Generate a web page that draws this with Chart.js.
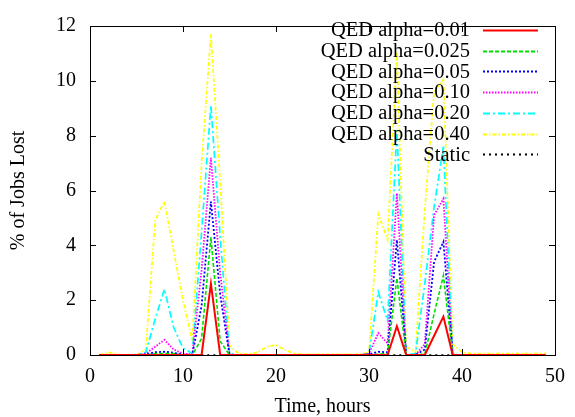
<!DOCTYPE html>
<html>
<head>
<meta charset="utf-8">
<script src="https://cdn.jsdelivr.net/npm/chart.js@4/dist/chart.umd.min.js"></script>
<style>
html,body{margin:0;padding:0;background:#fff;}
canvas{display:block;}
</style>
</head>
<body>
<canvas id="c" width="575" height="417"></canvas>
<script>
// hours 1..49
const hours = [1,2,3,4,5,6,7,8,9,10,11,12,13,14,15,16,17,18,19,20,21,22,23,24,25,26,27,28,29,30,31,32,33,34,35,36,37,38,39,40,41,42,43,44,45,46,47,48,49];
const qed001  = [0,0,0,0,0,0,   0,   0,   0,   0,   0,   0,   2.6, 0,   0,   0,0,0,0,0,0,0,0,0,0,0,0,0,0,0,   0,   0,   1.05,0,0,0,   0.7, 1.4, 0,0,0,0,0,0,0,0,0,0,0];
const qed0025 = [0,0,0,0,0,0,   0.05,0.05,0.05,0,   0,   0.6, 4.3, 0.5, 0,   0,0,0,0,0,0,0,0,0,0,0,0,0,0,0,   0.03,0.05,2.8, 0,0,0.03,1.5, 2.9, 0,0,0,0,0,0,0,0,0,0,0];
const qed005  = [0,0,0,0,0,0.02,0.1, 0.12,0.08,0.02,0,   1.8, 5.6, 2.2, 0,   0,0,0,0,0,0,0,0,0,0,0,0,0,0,0.02,0.12,0.1, 4.2, 0,0,0.2, 3.4, 4.13,0,0,0,0,0,0,0,0,0,0,0];
const qed010  = [0,0,0,0,0,0.05,0.3, 0.55,0.2, 0.05,0.02,3.1, 7.2, 3.0, 0.02,0,0,0,0,0,0,0,0,0,0,0,0,0,0,0.05,0.8, 0.42,5.9, 0,0,0.4, 5.1, 5.7, 0,0,0,0,0,0,0,0,0,0,0];
const qed020  = [0,0,0,0,0,0.1, 1.3, 2.4, 1.0, 0.25,0.05,4.5, 9.1, 4.3, 0.05,0,0,0,0,0,0,0,0,0,0,0,0,0,0,0.05,2.3, 1.25,8.2, 0,0.05,2.6,5.4, 7.6, 0.02,0,0,0,0,0,0,0,0,0,0];
const qed040  = [0,0.1,0.02,0,0,0.2,4.9,5.6,3.8,2.0,0.5,7.0,11.7,6.3,0.35,0.05,0.03,0.1,0.3,0.37,0.18,0.05,0.02,0.02,0.02,0.02,0.02,0.02,0.02,0.1,5.15,4.2,11.05,0.3,0.1,5.3,9.6,10.05,0.4,0.1,0.05,0.05,0.05,0.05,0.05,0.05,0.05,0.05,0.05];
const staticV = [0,0,0,0,0,0,0,0,0,0,0,0,0,0,0,0,0,0,0,0,0,0,0,0,0,0,0,0,0,0,0,0,0,0,0,0,0,0,0,0,0,0,0,0,0,0,0,0,0];

const labels = ['QED alpha=0.01','QED alpha=0.025','QED alpha=0.05','QED alpha=0.10','QED alpha=0.20','QED alpha=0.40','Static'];
const xTicks = [0,10,20,30,40,50];
const yTicks = [0,2,4,6,8,10,12];

const FONT = '"Liberation Serif", "Times New Roman", Times, serif';
const toPts = arr => hours.map((h, i) => ({x: h, y: arr[i]}));

const series = [
  {data: qed001,  color: '#ff0000', width: 2,   dash: []},
  {data: qed0025, color: '#00e000', width: 1.6, dash: [4, 2]},
  {data: qed005,  color: '#0000ff', width: 1.8, dash: [2, 2]},
  {data: qed010,  color: '#ff00ff', width: 1.8, dash: [1.5, 1.5]},
  {data: qed020,  color: '#00ffff', width: 1.7, dash: [7, 3, 2, 3]},
  {data: qed040,  color: '#ffff00', width: 1.7, dash: [4, 2, 1.5, 2]},
  {data: staticV, color: '#000000', width: 1.3, dash: [2, 4]}
];

const datasets = series.map((s, i) => ({
  label: labels[i],
  data: toPts(s.data),
  borderColor: s.color,
  backgroundColor: s.color,
  borderWidth: s.width,
  borderDash: s.dash,
  pointRadius: 0,
  tension: 0,
  fill: false,
  clip: 4
}));

const framePlugin = {
  id: 'frame',
  afterDatasetsDraw(chart) {
    const {ctx, chartArea: a, scales: {x, y}} = chart;
    ctx.save();
    ctx.strokeStyle = '#000';
    ctx.lineWidth = 1;
    ctx.setLineDash([]);
    ctx.strokeRect(Math.round(a.left) + 0.5, Math.round(a.top) + 0.5, Math.round(a.right - a.left), Math.round(a.bottom - a.top));
    const tl = 6;
    ctx.beginPath();
    xTicks.forEach(v => {
      const px = Math.round(x.getPixelForValue(v)) + 0.5;
      ctx.moveTo(px, a.bottom); ctx.lineTo(px, a.bottom - tl);
      ctx.moveTo(px, a.top); ctx.lineTo(px, a.top + tl);
    });
    yTicks.forEach(v => {
      const py = Math.round(y.getPixelForValue(v)) + 0.5;
      ctx.moveTo(a.left, py); ctx.lineTo(a.left + tl, py);
      ctx.moveTo(a.right, py); ctx.lineTo(a.right - tl, py);
    });
    ctx.stroke();
    // key inside, top right, gnuplot style
    ctx.font = '20.5px ' + FONT;
    ctx.textAlign = 'right';
    ctx.textBaseline = 'middle';
    chart.data.datasets.forEach((ds, i) => {
      const cy = 30 + i * 20.7;
      ctx.fillStyle = '#000';
      ctx.fillText(ds.label, 470, cy + 1);
      ctx.beginPath();
      ctx.strokeStyle = ds.borderColor;
      ctx.lineWidth = Math.max(ds.borderWidth, 1.8);
      ctx.setLineDash(ds.borderDash);
      ctx.moveTo(483, Math.round(cy) + 0.5);
      ctx.lineTo(538, Math.round(cy) + 0.5);
      ctx.stroke();
    });
    ctx.restore();
  }
};

new Chart(document.getElementById('c'), {
  type: 'line',
  data: {datasets},
  options: {
    responsive: false,
    animation: false,
    layout: {padding: {left: 0, right: 11, top: 15, bottom: 0}},
    plugins: {legend: {display: false}, tooltip: {enabled: false}},
    scales: {
      x: {
        type: 'linear', min: 0, max: 50,
        afterBuildTicks: s => { s.ticks = xTicks.map(v => ({value: v})); },
        afterFit: s => { s.height = 62; },
        grid: {display: false, drawTicks: false},
        border: {display: false},
        ticks: {color: '#000', padding: 10, font: {family: FONT, size: 20}, maxRotation: 0},
        title: {display: true, text: 'Time, hours', color: '#000', font: {family: FONT, size: 20}, padding: {top: 0, bottom: -2}}
      },
      y: {
        type: 'linear', min: 0, max: 12,
        afterBuildTicks: s => { s.ticks = yTicks.map(v => ({value: v})); },
        afterFit: s => { s.width = 90; },
        grid: {display: false, drawTicks: false},
        border: {display: false},
        ticks: {color: '#000', padding: 14, font: {family: FONT, size: 20}},
        title: {display: true, text: '% of Jobs Lost', color: '#000', font: {family: FONT, size: 20}, padding: {top: 7, bottom: 0}}
      }
    }
  },
  plugins: [framePlugin]
});
</script>
</body>
</html>
